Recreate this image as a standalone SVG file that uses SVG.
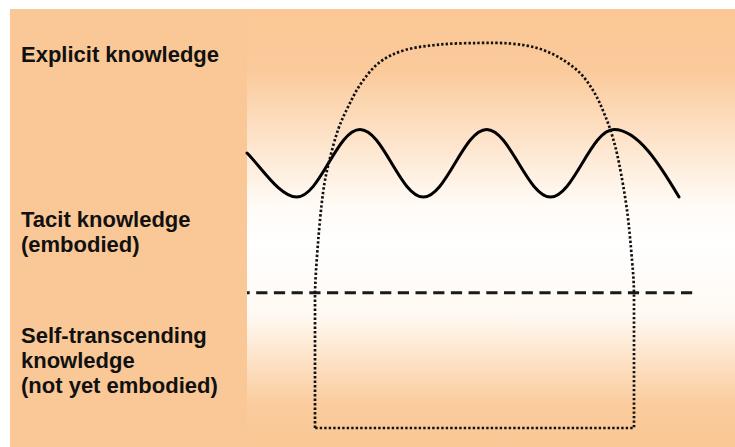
<svg xmlns="http://www.w3.org/2000/svg" width="735" height="447" viewBox="0 0 735 447">
  <defs>
    <linearGradient id="rightBg" x1="0" y1="9" x2="0" y2="447" gradientUnits="userSpaceOnUse">
      <stop offset="0" stop-color="#FBC795"/>
      <stop offset="0.14" stop-color="#FBCA9B"/>
      <stop offset="0.44" stop-color="#FFFAF4"/>
      <stop offset="0.53" stop-color="#FFFFFF"/>
      <stop offset="0.7" stop-color="#FFF9F2"/>
      <stop offset="0.9" stop-color="#FBCC9E"/>
      <stop offset="1" stop-color="#FAC795"/>
    </linearGradient>
    <style>
      .lbl { font-family: "Liberation Sans", Arial, sans-serif; font-weight: bold; font-size: 22px; fill: #111111; }
      .dotted { fill: none; stroke: #111111; stroke-width: 2.7; stroke-dasharray: 2.4 2.1; stroke-linecap: butt; stroke-linejoin: miter; }
      .dashed { fill: none; stroke: #1a1a1a; stroke-width: 3; stroke-dasharray: 11.2 6.5; stroke-dashoffset: 8.5; }
      .wave { fill: none; stroke: #000000; stroke-width: 3; stroke-linecap: round; }
    </style>
  </defs>

  <rect x="0" y="0" width="735" height="447" fill="#FFFFFF"/>
  <rect x="10" y="9" width="237" height="438" fill="#FAC796"/>
  <rect x="247" y="9" width="488" height="438" fill="url(#rightBg)"/>

  <g id="label-explicit">
    <text class="lbl" x="21" y="62">Explicit knowledge</text>
  </g>
  <g id="label-tacit">
    <text class="lbl" x="21" y="227">Tacit knowledge</text>
    <text class="lbl" x="21" y="252">(embodied)</text>
  </g>
  <g id="label-self">
    <text class="lbl" x="21" y="343">Self-transcending</text>
    <text class="lbl" x="21" y="368">knowledge</text>
    <text class="lbl" x="21" y="393">(not yet embodied)</text>
  </g>

  <g id="connectors">
    <path id="boundary-dashed" class="dashed" d="M 247,292.7 L 693,292.7"/>
    <path id="wave" class="wave" d="M 247,153 C 262,168 280,197 296.7,197 C 320,197 337,129.5 360,129.5 C 383,129.5 400.3,197 423.3,197 C 446.3,197 463.7,129.5 486.7,129.5 C 509.7,129.5 527.5,197 550.5,197 C 573.5,197 591,129.5 614,129.5 C 638,129.5 660,165 679,197"/>
  </g>

  <g id="arch">
    <path class="dotted" d="M 315,428 L 315,293 C 315.5,276.3 316.7,259.7 318,243 C 319.3,226.3 321.2,206.5 323,193 C 324.8,179.5 326.5,172.5 329,162 C 331.5,151.5 334.7,139.5 338,130 C 341.3,120.5 345,113 349,105 C 353,97 356.8,89.2 362,82 C 367.2,74.8 372.8,67.3 380,62 C 387.2,56.7 395,52.9 405,50 C 415,47.1 427.8,45.7 440,44.5 C 452.2,43.3 466.3,43.2 478,43 C 489.7,42.8 500.2,42.7 510,43.5 C 519.8,44.3 528.7,45.6 537,48 C 545.3,50.4 552.8,53.8 560,58 C 567.2,62.2 574.3,67.3 580,73 C 585.7,78.7 590,85.3 594,92 C 598,98.7 601,105.8 604,113 C 607,120.2 609.5,126.7 612,135 C 614.5,143.3 616.5,150.5 619,163 C 621.5,175.5 624.8,193.8 627,210 C 629.2,226.2 630.8,246.2 632,260 C 633.2,273.8 633.7,279.2 634,293 L 634,428 Z"/>
  </g>
</svg>
